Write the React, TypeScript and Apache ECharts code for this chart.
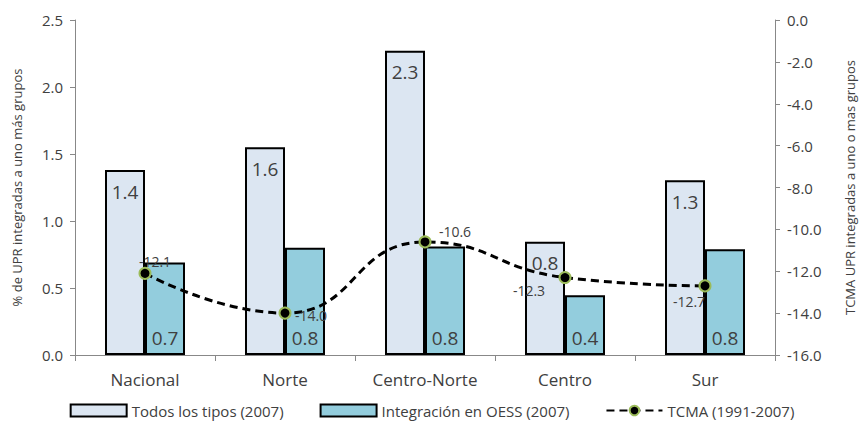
import React, { useEffect, useRef } from "react";
import * as echarts from "echarts";

const categories = ["Nacional", "Norte", "Centro-Norte", "Centro", "Sur"];
const todosLosTipos = [1.38, 1.55, 2.27, 0.845, 1.305];
const integracionOESS = [0.69, 0.8, 0.81, 0.445, 0.79];
const tcma = [-12.1, -14.0, -10.6, -12.3, -12.7];
const todosLabels = ["1.4", "1.6", "2.3", "0.8", "1.3"];
const integracionLabels = ["0.7", "0.8", "0.8", "0.4", "0.8"];
const leftTicks = [0, 0.5, 1.0, 1.5, 2.0, 2.5];
const rightTicks = [-16, -14, -12, -10, -8, -6, -4, -2, 0];

const FONT = "'Open Sans', 'Liberation Sans', sans-serif";
const TXT = "#404040";

const lineLabelOffsets: [number, number][] = [
  [10, -12],
  [26, 2],
  [30, -10],
  [-36, 13],
  [-16, 16],
];

export default function App() {
  const ref = useRef<HTMLDivElement>(null);
  useEffect(() => {
    if (!ref.current) return;
    const chart = echarts.init(ref.current, null, { renderer: "svg" });
    chart.setOption({
      animation: false,
      textStyle: { fontFamily: FONT, color: TXT },
      grid: { left: 75, right: 82, top: 20, bottom: 78, containLabel: false },
      legend: {
        bottom: 10,
        left: "center",
        itemGap: 36,
        itemWidth: 56,
        itemHeight: 12,
        textStyle: { fontFamily: FONT, fontSize: 15, color: TXT },
        data: [
          { name: "Todos los tipos (2007)", icon: "rect" },
          { name: "Integración en OESS (2007)", icon: "rect" },
          { name: "TCMA (1991-2007)" },
        ],
      },
      xAxis: {
        type: "category",
        data: categories,
        axisLine: { lineStyle: { color: "#888", width: 1 } },
        axisTick: { show: true, alignWithLabel: false, length: 6, lineStyle: { color: "#888" } },
        axisLabel: { fontSize: 17, color: TXT, margin: 16, fontFamily: FONT },
      },
      yAxis: [
        {
          type: "value",
          min: leftTicks[0],
          max: leftTicks[leftTicks.length - 1],
          interval: 0.5,
          position: "left",
          name: "% de UPR integradas a uno más grupos",
          nameLocation: "middle",
          nameRotate: 90,
          nameGap: 52,
          nameTextStyle: { fontSize: 13, color: TXT, fontFamily: FONT },
          axisLine: { show: true, lineStyle: { color: "#888" } },
          axisTick: { show: true, length: 5, lineStyle: { color: "#888" } },
          splitLine: { show: false },
          axisLabel: {
            fontSize: 15,
            color: TXT,
            margin: 12,
            formatter: (v: number) => v.toFixed(1),
          },
        },
        {
          type: "value",
          min: rightTicks[0],
          max: rightTicks[rightTicks.length - 1],
          interval: 2,
          position: "right",
          name: "TCMA UPR integradas a uno o mas grupos",
          nameLocation: "middle",
          nameRotate: 90,
          nameGap: 68,
          nameTextStyle: { fontSize: 13, color: TXT, fontFamily: FONT },
          axisLine: { show: true, lineStyle: { color: "#888" } },
          axisTick: { show: true, length: 5, lineStyle: { color: "#888" } },
          splitLine: { show: false },
          axisLabel: {
            fontSize: 15,
            color: TXT,
            margin: 12,
            formatter: (v: number) => v.toFixed(1),
          },
        },
      ],
      series: [
        {
          name: "Todos los tipos (2007)",
          type: "bar",
          yAxisIndex: 0,
          barWidth: 40,
          barGap: "0%",
          data: todosLosTipos,
          itemStyle: { color: "#dce6f2", borderColor: "#000", borderWidth: 2 },
          label: {
            show: true,
            position: "insideTop",
            distance: 12,
            fontSize: 19,
            color: TXT,
            fontFamily: FONT,
            formatter: (p: any) => todosLabels[p.dataIndex],
          },
          z: 2,
        },
        {
          name: "Integración en OESS (2007)",
          type: "bar",
          yAxisIndex: 0,
          barWidth: 40,
          barGap: "0%",
          data: integracionOESS,
          itemStyle: { color: "#93cddd", borderColor: "#000", borderWidth: 2 },
          label: {
            show: true,
            position: "insideBottom",
            distance: 8,
            fontSize: 19,
            color: TXT,
            fontFamily: FONT,
            formatter: (p: any) => integracionLabels[p.dataIndex],
          },
          z: 2,
        },
        {
          name: "TCMA (1991-2007)",
          type: "line",
          yAxisIndex: 1,
          smooth: 0.5,
          symbol: "circle",
          symbolSize: 11,
          data: tcma.map((v, i) => ({
            value: v,
            label: { offset: lineLabelOffsets[i] },
          })),
          lineStyle: { color: "#000", width: 3, type: [8, 5] },
          itemStyle: { color: "#000", borderColor: "#9bbb59", borderWidth: 2 },
          label: {
            show: true,
            position: "inside",
            fontSize: 14,
            color: TXT,
            fontFamily: FONT,
            formatter: (p: any) => Number(p.value).toFixed(1),
          },
          z: 5,
        },
      ],
    });
    return () => chart.dispose();
  }, []);
  return (
    <div
      ref={ref}
      style={{ position: "absolute", left: 0, top: 0, width: 864, height: 433 }}
    />
  );
}
